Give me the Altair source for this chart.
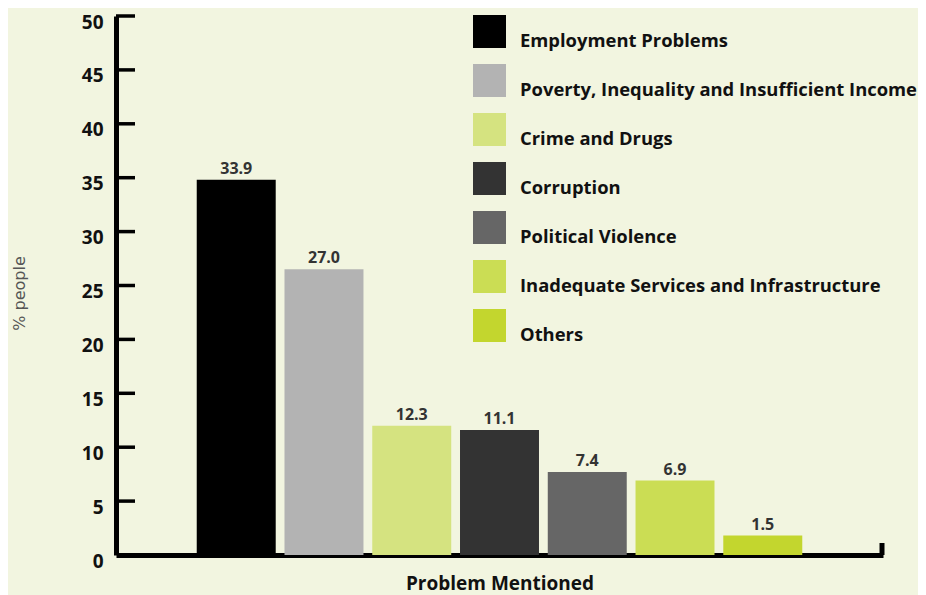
import altair as alt
import pandas as pd

categories = [
    "Employment Problems",
    "Poverty, Inequality and Insufficient Income",
    "Crime and Drugs",
    "Corruption",
    "Political Violence",
    "Inadequate Services and Infrastructure",
    "Others",
]
# bar heights as drawn in the picture
bar_heights = [34.8, 26.5, 12.0, 11.6, 7.7, 6.9, 1.8]
# value labels printed above the bars
value_labels = ["33.9", "27.0", "12.3", "11.1", "7.4", "6.9", "1.5"]
colors = ["#000000", "#b3b3b3", "#d5e380", "#333333", "#666666", "#cbdd54", "#c3d62e"]
y_ticks = [5, 10, 15, 20, 25, 30, 35, 40, 45, 50]

BG = "#f2f5e0"
FONT = "Open Sans"
W, H = 767, 539

df = pd.DataFrame({"problem": categories, "value": bar_heights, "label": value_labels})
ticks_df = pd.DataFrame({"t": y_ticks})

x_enc = alt.X(
    "problem:N",
    sort=categories,
    scale=alt.Scale(paddingInner=0.1, paddingOuter=0.92),
    axis=alt.Axis(
        labels=False, ticks=False, tickSize=0, labelPadding=0,
        domainColor="#000000", domainWidth=5,
        title="Problem Mentioned", titleFont=FONT, titleFontSize=19,
        titleFontWeight="bold", titleColor="#111111", titlePadding=19,
    ),
)
y_scale = alt.Scale(domain=[0, 50], nice=False)
y_enc = alt.Y(
    "value:Q",
    scale=y_scale,
    axis=alt.Axis(
        values=[0] + y_ticks, ticks=False, tickSize=0, grid=False,
        domainColor="#000000", domainWidth=5,
        labelFont=FONT, labelFontSize=19, labelFontWeight="bold",
        labelColor="#111111", labelPadding=13, labelOffset=6,
        title="% people", titleFont="DejaVu Sans", titleFontSize=16,
        titleFontWeight="normal", titleColor="#555555",
        titleX=-89, titleY=277, titleAngle=-90, titleBaseline="bottom",
    ),
)

bars = alt.Chart(df).mark_bar().encode(
    x=x_enc,
    y=y_enc,
    color=alt.Color(
        "problem:N",
        sort=categories,
        scale=alt.Scale(domain=categories, range=colors),
        legend=alt.Legend(
            title=None, orient="none", legendX=357, legendY=-1,
            symbolType="square", symbolSize=1089, symbolStrokeWidth=0,
            symbolOpacity=1, rowPadding=14, labelOffset=14,
            labelFont=FONT, labelFontSize=18.4, labelFontWeight="bold",
            labelColor="#111111", labelLimit=600, labelBaseline="top",
            padding=0,
        ),
    ),
)

texts = alt.Chart(df).mark_text(
    baseline="alphabetic", dy=-6, font=FONT, fontSize=16,
    fontWeight="bold", color="#333333",
).encode(
    x=alt.X("problem:N", sort=categories),
    y=alt.Y("value:Q", scale=y_scale),
    text="label:N",
)

inner_ticks = alt.Chart(ticks_df).mark_rule(color="#000000", strokeWidth=3.5).encode(
    y=alt.Y("t:Q", scale=y_scale),
    x=alt.value(0),
    x2=alt.value(19),
)

end_tick = alt.Chart(ticks_df.head(1)).mark_rule(color="#000000", strokeWidth=5).encode(
    x=alt.value(W - 1),
    y=alt.value(H - 12),
    y2=alt.value(H),
)

chart = (
    alt.layer(bars, texts, inner_ticks, end_tick)
    .properties(
        width=W, height=H,
        autosize=alt.AutoSizeParams(type="none"),
        padding={"left": 108, "top": 8, "right": 35, "bottom": 40},
    )
    .configure(background=BG)
    .configure_view(stroke=None)
)

chart.save("out.html", embed_options={"renderer": "svg", "actions": False})
